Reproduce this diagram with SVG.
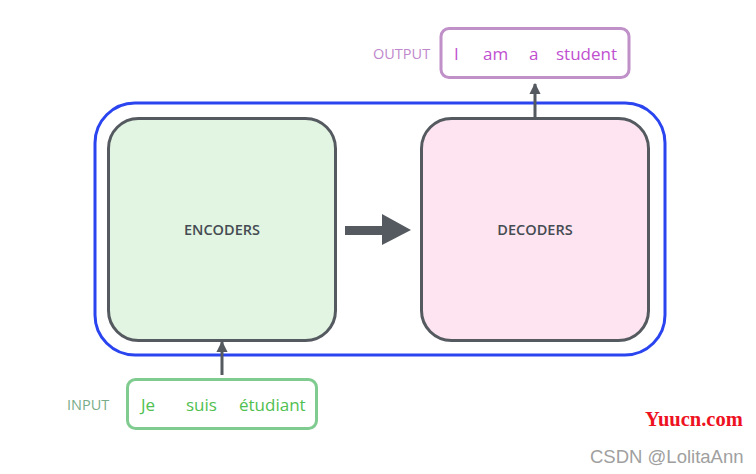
<svg xmlns="http://www.w3.org/2000/svg" width="756" height="474" viewBox="0 0 756 474">
<defs>
<style>
.box{stroke:#555a60;stroke-width:3}
.lbl{font-family:"Open Sans","Noto Sans",sans-serif;font-weight:600;font-size:14.5px;fill:#454b52;text-anchor:middle}
.w{font-family:"Open Sans","Noto Sans",sans-serif;font-size:17px}
.cap{font-family:"Open Sans","Noto Sans",sans-serif;font-size:14.5px;font-weight:500}
.conn{stroke:#555a60;stroke-width:3;fill:none}
</style>
<marker id="ah" viewBox="0 0 10 10" refX="9" refY="5" markerWidth="3.8" markerHeight="3.8" orient="auto" markerUnits="strokeWidth">
<path d="M0,0 L10,5 L0,10 z" fill="#555a60"/>
</marker>
</defs>
<rect width="756" height="474" fill="#ffffff"/>
<g id="stack">
<rect x="95" y="103" width="570" height="252" rx="40" fill="none" stroke="#2a44f0" stroke-width="3"/>
</g>
<g id="encoders">
<rect class="box" x="108.5" y="118.5" width="227" height="222" rx="30" fill="#e2f5e2"/>
<text class="lbl" x="222" y="235">ENCODERS</text>
</g>
<g id="decoders">
<rect class="box" x="421.5" y="118.5" width="227" height="222" rx="30" fill="#fde4f0"/>
<text class="lbl" x="535" y="235">DECODERS</text>
</g>
<g id="output">
<text class="cap" x="373" y="59" fill="#c088cc">OUTPUT</text>
<rect x="441" y="28.5" width="188" height="49" rx="8" fill="#ffffff" stroke="#c090c8" stroke-width="3"/>
<text class="w" x="454" y="60" fill="#c050d0">I</text>
<text class="w" x="483" y="60" fill="#c050d0">am</text>
<text class="w" x="529" y="60" fill="#c050d0">a</text>
<text class="w" x="556" y="60" fill="#c050d0">student</text>
</g>
<g id="input">
<text class="cap" x="67" y="410" fill="#78ac88">INPUT</text>
<rect x="127.5" y="379.5" width="189" height="49" rx="8" fill="#ffffff" stroke="#80cc90" stroke-width="3"/>
<text class="w" x="141" y="411" fill="#50c050">Je</text>
<text class="w" x="186" y="411" fill="#50c050">suis</text>
<text class="w" x="239" y="411" fill="#50c050">étudiant</text>
</g>
<g id="connectors">
<path class="conn" d="M535,118 L535,84" marker-end="url(#ah)"/>
<path class="conn" d="M222,375 L222,342" marker-end="url(#ah)"/>
<rect x="345" y="226" width="38" height="9" fill="#555a60"/>
<path d="M382,214 L411,230 L382,245 z" fill="#555a60"/>
</g>
<g id="watermark">
<text x="645" y="426" font-family="Liberation Serif,serif" font-weight="bold" font-size="20.5" fill="#ee1122">Yuucn.com</text>
<text x="590" y="463" font-family="Liberation Sans,sans-serif" font-size="18.5" fill="#a0a0a0">CSDN @LolitaAnn</text>
</g>
</svg>
